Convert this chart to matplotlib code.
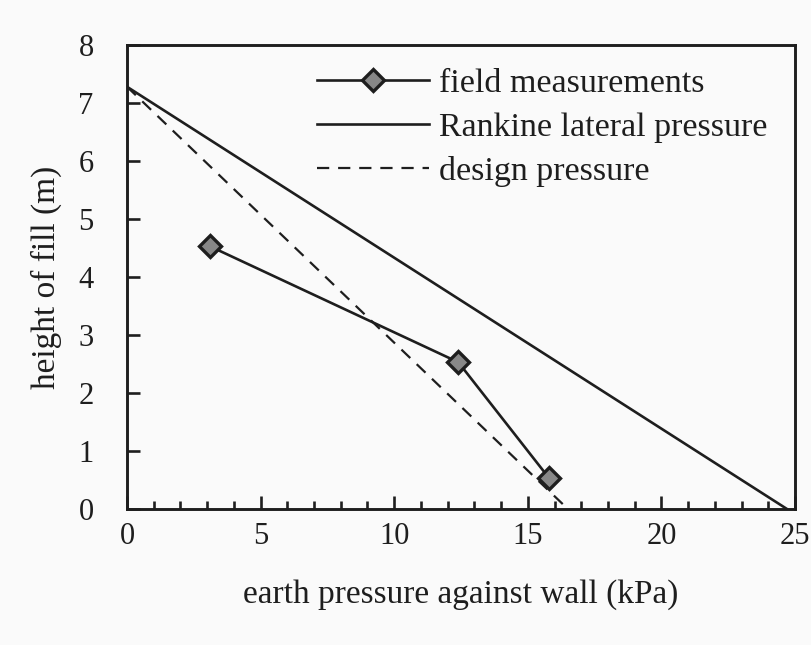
import matplotlib
matplotlib.use("Agg")
import matplotlib.pyplot as plt
from matplotlib.ticker import MultipleLocator

plt.rcParams['font.family'] = ['Liberation Serif', 'DejaVu Serif']

# field measurements
field_x = [3.1, 12.4, 15.8]
field_y = [4.53, 2.53, 0.53]

# Rankine lateral pressure
rankine_x = [0.0, 24.7]
rankine_y = [7.28, 0.0]

# design pressure
design_x = [0.0, 16.5]
design_y = [7.28, 0.0]

fig = plt.figure(figsize=(8.11, 6.45), dpi=100, facecolor='#fafafa')
ax = fig.add_axes([127/811, 1 - 509/645, (795-127)/811, (509-45)/645])
ax.set_facecolor('#fafafa')

ink = '#1e1e1e'
ax.plot(field_x, field_y, color=ink, lw=1.9, marker='D', ms=11,
        mfc='#888888', mec=ink, mew=2.4, label='field measurements')
ax.plot(rankine_x, rankine_y, color=ink, lw=1.9, label='Rankine lateral pressure')
ax.plot(design_x, design_y, color=ink, lw=1.6, dashes=(5.5, 4), label='design pressure')

ax.set_xlim(0, 25)
ax.set_ylim(0, 8)
ax.xaxis.set_major_locator(MultipleLocator(5))
ax.xaxis.set_minor_locator(MultipleLocator(1))
ax.yaxis.set_major_locator(MultipleLocator(1))
ax.tick_params(which='both', direction='in', top=False, right=False,
               colors=ink, labelsize=22, width=1.9)
ax.tick_params(which='major', length=9.5)
ax.tick_params(which='minor', length=6)
ax.tick_params(axis='x', pad=9)
ax.tick_params(axis='y', pad=24)
for s in ax.spines.values():
    s.set_linewidth(2.1)
    s.set_color(ink)

ax.set_xlabel('earth pressure against wall (kPa)', fontsize=24, color=ink, labelpad=21)
ax.set_ylabel('height of fill (m)', fontsize=24, color=ink, labelpad=12)

ax.legend(loc='upper left', bbox_to_anchor=(0.284, 0.95), frameon=False,
          fontsize=24.5, handlelength=3.3, handletextpad=0.3, labelspacing=0.38,
          borderpad=0, borderaxespad=0, labelcolor=ink)

fig.savefig('out.png', dpi=100, facecolor=fig.get_facecolor())
